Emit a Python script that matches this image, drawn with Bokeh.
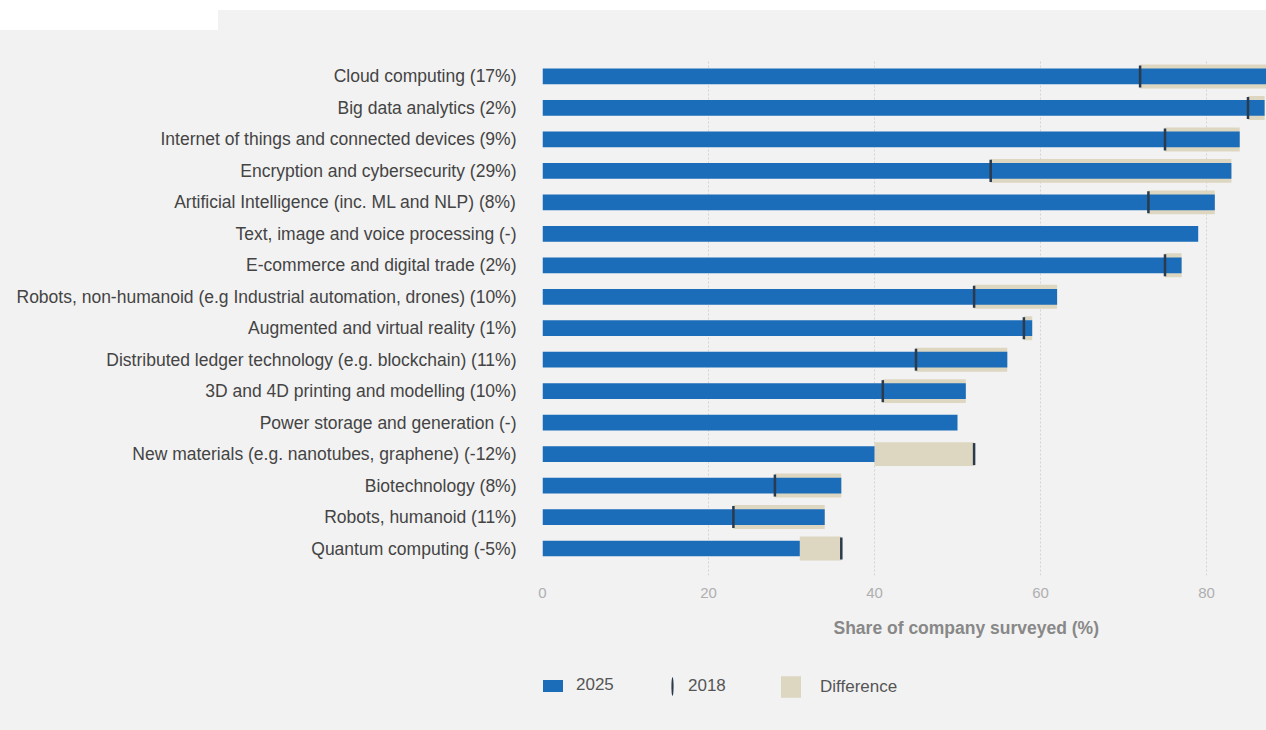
from bokeh.plotting import figure
from bokeh.layouts import column, row
from bokeh.models import (Range1d, FixedTicker, Title, Legend, LegendItem,
                          ColumnDataSource, Spacer)
from bokeh.embed import file_html
from bokeh.resources import INLINE

# ---- data (top row first) ----
categories = [
    "Cloud computing (17%)",
    "Big data analytics (2%)",
    "Internet of things and connected devices (9%)",
    "Encryption and cybersecurity (29%)",
    "Artificial Intelligence (inc. ML and NLP) (8%)",
    "Text, image and voice processing (-)",
    "E-commerce and digital trade (2%)",
    "Robots, non-humanoid (e.g Industrial automation, drones) (10%)",
    "Augmented and virtual reality (1%)",
    "Distributed ledger technology (e.g. blockchain) (11%)",
    "3D and 4D printing and modelling (10%)",
    "Power storage and generation (-)",
    "New materials (e.g. nanotubes, graphene) (-12%)",
    "Biotechnology (8%)",
    "Robots, humanoid (11%)",
    "Quantum computing (-5%)",
]
share_2025 = [89, 87, 84, 83, 81, 79, 77, 62, 59, 56, 51, 50, 40, 36, 34, 31]
share_2018 = [72, 85, 75, 54, 73, None, 75, 52, 58, 45, 41, None, 52, 28, 23, 36]
x_ticks = [0, 20, 40, 60, 80]
legend_labels = ["2025", "2018", "Difference"]

n = len(categories)
ypos = [n - 1 - i for i in range(n)]
v18 = [float("nan") if v is None else v for v in share_2018]
d_left = [float("nan") if b is None else min(a, b) for a, b in zip(share_2025, share_2018)]
d_right = [float("nan") if b is None else max(a, b) for a, b in zip(share_2025, share_2018)]

src = ColumnDataSource(dict(y=ypos, v25=share_2025, v18=v18, dl=d_left, dr=d_right))

BG = "#f2f2f2"
BLUE = "#1b6cb9"
BEIGE = "#ddd6c1"
MARK = "#2b3a4c"
FONT = "Liberation Sans"
W = 1266
FRAME_LEFT = 542
PX_PER_UNIT = 8.3

p = figure(width=W, height=625, output_backend="svg", toolbar_location=None,
           x_range=Range1d(0, (W - FRAME_LEFT) / PX_PER_UNIT),
           y_range=Range1d(-0.858, n - 1 + 0.508),
           min_border_left=FRAME_LEFT, min_border_right=0, min_border_top=30,
           min_border_bottom=80)
p.background_fill_color = BG
p.border_fill_color = BG
p.outline_line_color = None

p.hbar(y="y", left="dl", right="dr", height=0.76, source=src,
       fill_color=BEIGE, line_color=None)
p.hbar(y="y", left=0, right="v25", height=0.5, source=src,
       fill_color=BLUE, line_color=None)
p.rect(x="v18", y="y", width=2.5, width_units="screen", height=0.7, source=src,
       fill_color=MARK, line_color=None)

# axes
p.yaxis.ticker = FixedTicker(ticks=ypos)
p.yaxis.major_label_overrides = {y: c for y, c in zip(ypos, categories)}
p.yaxis.axis_line_color = None
p.yaxis.major_tick_line_color = None
p.yaxis.minor_tick_line_color = None
p.yaxis.major_label_standoff = 20
p.yaxis.major_label_text_font = FONT
p.yaxis.major_label_text_font_size = "17.5px"
p.yaxis.major_label_text_color = "#444444"

p.xaxis.ticker = FixedTicker(ticks=x_ticks)
p.xaxis.axis_line_color = None
p.xaxis.major_tick_line_color = None
p.xaxis.minor_tick_line_color = None
p.xaxis.major_label_standoff = 6
p.xaxis.major_label_text_font = FONT
p.xaxis.major_label_text_font_size = "15px"
p.xaxis.major_label_text_color = "#afafaf"

p.xgrid.grid_line_color = "#d4d4d4"
p.xgrid.grid_line_dash = "2 2"
p.ygrid.grid_line_color = None

p.add_layout(Title(text="Share of company surveyed (%)", align="left", offset=291,
                   text_font=FONT, text_font_size="17.5px", text_font_style="bold",
                   text_color="#888888", standoff=30), "below")

# ---- legend strip (its frame is aligned with the main frame by the column) ----
lg = figure(width=W, height=75, output_backend="svg", toolbar_location=None,
            x_range=Range1d(0, 1), y_range=Range1d(0, 1),
            x_axis_type=None, y_axis_type=None,
            min_border_left=FRAME_LEFT, min_border_right=0, min_border_top=0,
            min_border_bottom=0)
lg.background_fill_color = BG
lg.border_fill_color = BG
lg.outline_line_color = None
lg.xgrid.grid_line_color = None
lg.ygrid.grid_line_color = None

# legend swatch renderers (single point placed outside the visible range)
r25 = lg.hbar(y=[-5], left=[0], right=[1], height=0.5, fill_color=BLUE, line_color=None)
r18 = lg.ellipse(x=[-5], y=[-5], width=2.5, height=22, width_units="screen",
                 height_units="screen", fill_color=MARK, line_color=None)
rdf = lg.hbar(y=[-5], left=[0], right=[1], height=0.5, fill_color=BEIGE, line_color=None)

common = dict(orientation="horizontal", margin=0, padding=0, label_text_font=FONT,
              label_text_font_size="17px", label_text_color="#555555",
              background_fill_alpha=0, border_line_color=None)
lg.add_layout(Legend(items=[LegendItem(label=legend_labels[0], renderers=[r25])],
                     location=(-2, 35), glyph_width=25, glyph_height=15,
                     label_standoff=11, **common))
lg.add_layout(Legend(items=[LegendItem(label=legend_labels[1], renderers=[r18])],
                     location=(118, 31), glyph_width=24, glyph_height=26,
                     label_standoff=4, **common))
lg.add_layout(Legend(items=[LegendItem(label=legend_labels[2], renderers=[rdf])],
                     location=(236, 30), glyph_width=25, glyph_height=27,
                     label_standoff=17, **common))

# page-top strip of the reference picture
top_strip = Spacer(width=W, height=10, margin=0, styles={"background-color": "white"})
top_row = row(Spacer(width=218, height=20, margin=0, styles={"background-color": "white"}),
              Spacer(width=W - 218, height=20, margin=0, styles={"background-color": BG}),
              spacing=0)

page = column(top_strip, top_row, p, lg, spacing=0, styles={"background-color": BG})
open("out.html", "w").write(file_html(page, INLINE))
